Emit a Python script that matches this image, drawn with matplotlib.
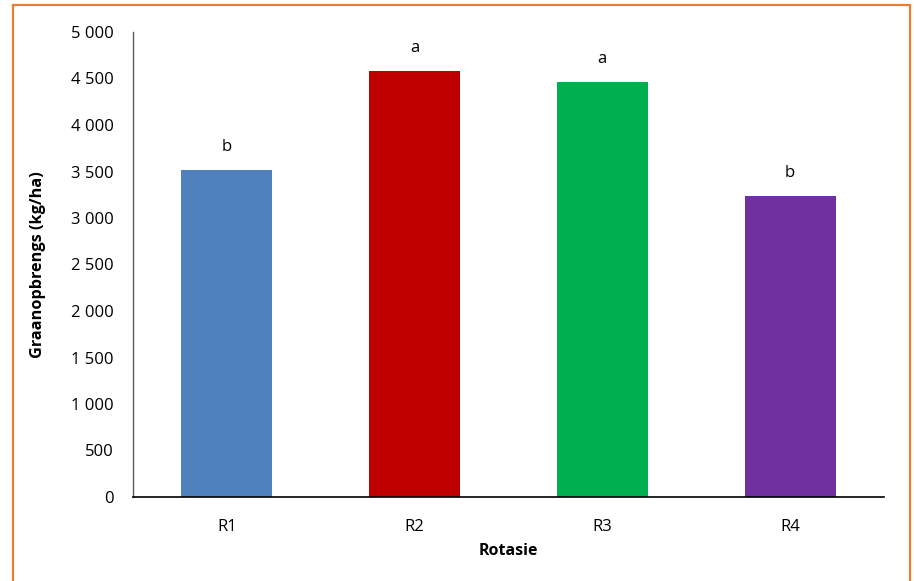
import matplotlib.pyplot as plt
from matplotlib.patches import Rectangle
from matplotlib.ticker import FuncFormatter

rotations = ["R1", "R2", "R3", "R4"]
yields = [3516, 4581, 4462, 3237]
letters = ["b", "a", "a", "b"]
colors = ["#4F81BD", "#C00000", "#00B050", "#7030A0"]

plt.rcParams['font.family'] = ['Open Sans', 'DejaVu Sans']

fig = plt.figure(figsize=(9.14, 5.81), dpi=100)
ax = fig.add_axes([133 / 914, 1 - 497 / 581, 751 / 914, 465 / 581])

x = range(len(rotations))
ax.bar(x, yields, width=0.485, color=colors)
for xi, v, l in zip(x, yields, letters):
    ax.annotate(l, (xi, v), xytext=(0, 16.5), textcoords='offset points',
                ha='center', va='center', fontsize=12)

ax.set_xlim(-0.5, 3.5)
ax.set_ylim(0, 5000)
ax.set_yticks(range(0, 5001, 500))
ax.yaxis.set_major_formatter(FuncFormatter(lambda v, p: f"{int(v):,}".replace(",", " ")))
ax.set_xticks(list(x))
ax.set_xticklabels(rotations)
ax.tick_params(axis='both', length=0, labelsize=12, colors='black')
ax.tick_params(axis='y', pad=14)
ax.tick_params(axis='x', pad=15.5)

for s in ['top', 'right']:
    ax.spines[s].set_visible(False)
ax.spines['left'].set_color('#595959')
ax.spines['bottom'].set_color('black')
ax.spines['left'].set_linewidth(1.0)
ax.spines['bottom'].set_linewidth(1.2)

ax.set_xlabel("Rotasie", fontsize=11.5, fontweight='bold', labelpad=6)
ax.set_ylabel("Graanopbrengs (kg/ha)", fontsize=11.7, fontweight='bold', labelpad=18)

# outer chart frame
fig.patches.append(Rectangle((12.5 / 914, -0.05), (910 - 12.5) / 914, 1.05 - 5 / 581,
                             transform=fig.transFigure, fill=False,
                             edgecolor='#ED7D31', linewidth=1.6))

fig.savefig('out.png', dpi=100)
